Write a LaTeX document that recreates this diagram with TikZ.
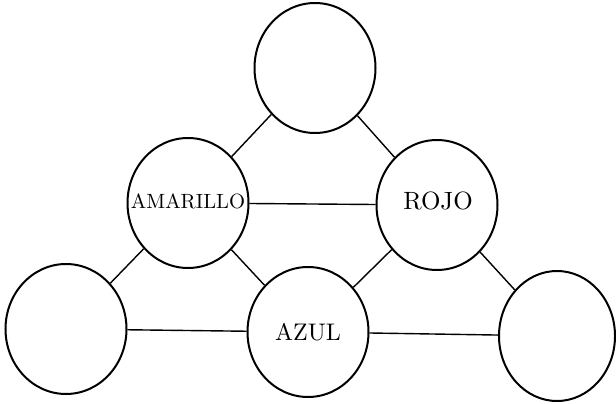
\documentclass[tikz,border=0pt]{standalone}
\usetikzlibrary{shapes.geometric}
\begin{document}
\begin{tikzpicture}[x=1pt,y=-1pt,
  circ/.style={ellipse,draw=black,line width=2pt,minimum width=121pt,minimum height=130pt,inner sep=0pt},
  lbl/.style={font=\fontsize{10}{12}\selectfont},
  link/.style={draw=black,line width=1.4pt}]
\useasboundingbox (0,0) rectangle (616,404);
\node[circ] (top) at (315,68) {};
\node[circ,label={[lbl,scale=2.06,yshift=1pt]center:AMARILLO}] (ama) at (188,203) {};
\node[circ,label={[lbl,scale=2.5,yshift=1.6pt,xshift=0.4pt]center:ROJO}] (rojo) at (437,205) {};
\node[circ] (left) at (66,329) {};
\node[circ,label={[lbl,scale=2.4]center:AZUL}] (azul) at (308,332) {};
\node[circ,minimum width=116pt] (right) at (557,336) {};
\draw[link] (top) -- (ama);
\draw[link] (top) -- (rojo);
\draw[link] (ama) -- (rojo);
\draw[link] (ama) -- (left);
\draw[link] (ama) -- (azul);
\draw[link] (rojo) -- (azul);
\draw[link] (rojo) -- (right);
\draw[link] (left) -- (azul);
\draw[link] (azul) -- (right);
\end{tikzpicture}
\end{document}
